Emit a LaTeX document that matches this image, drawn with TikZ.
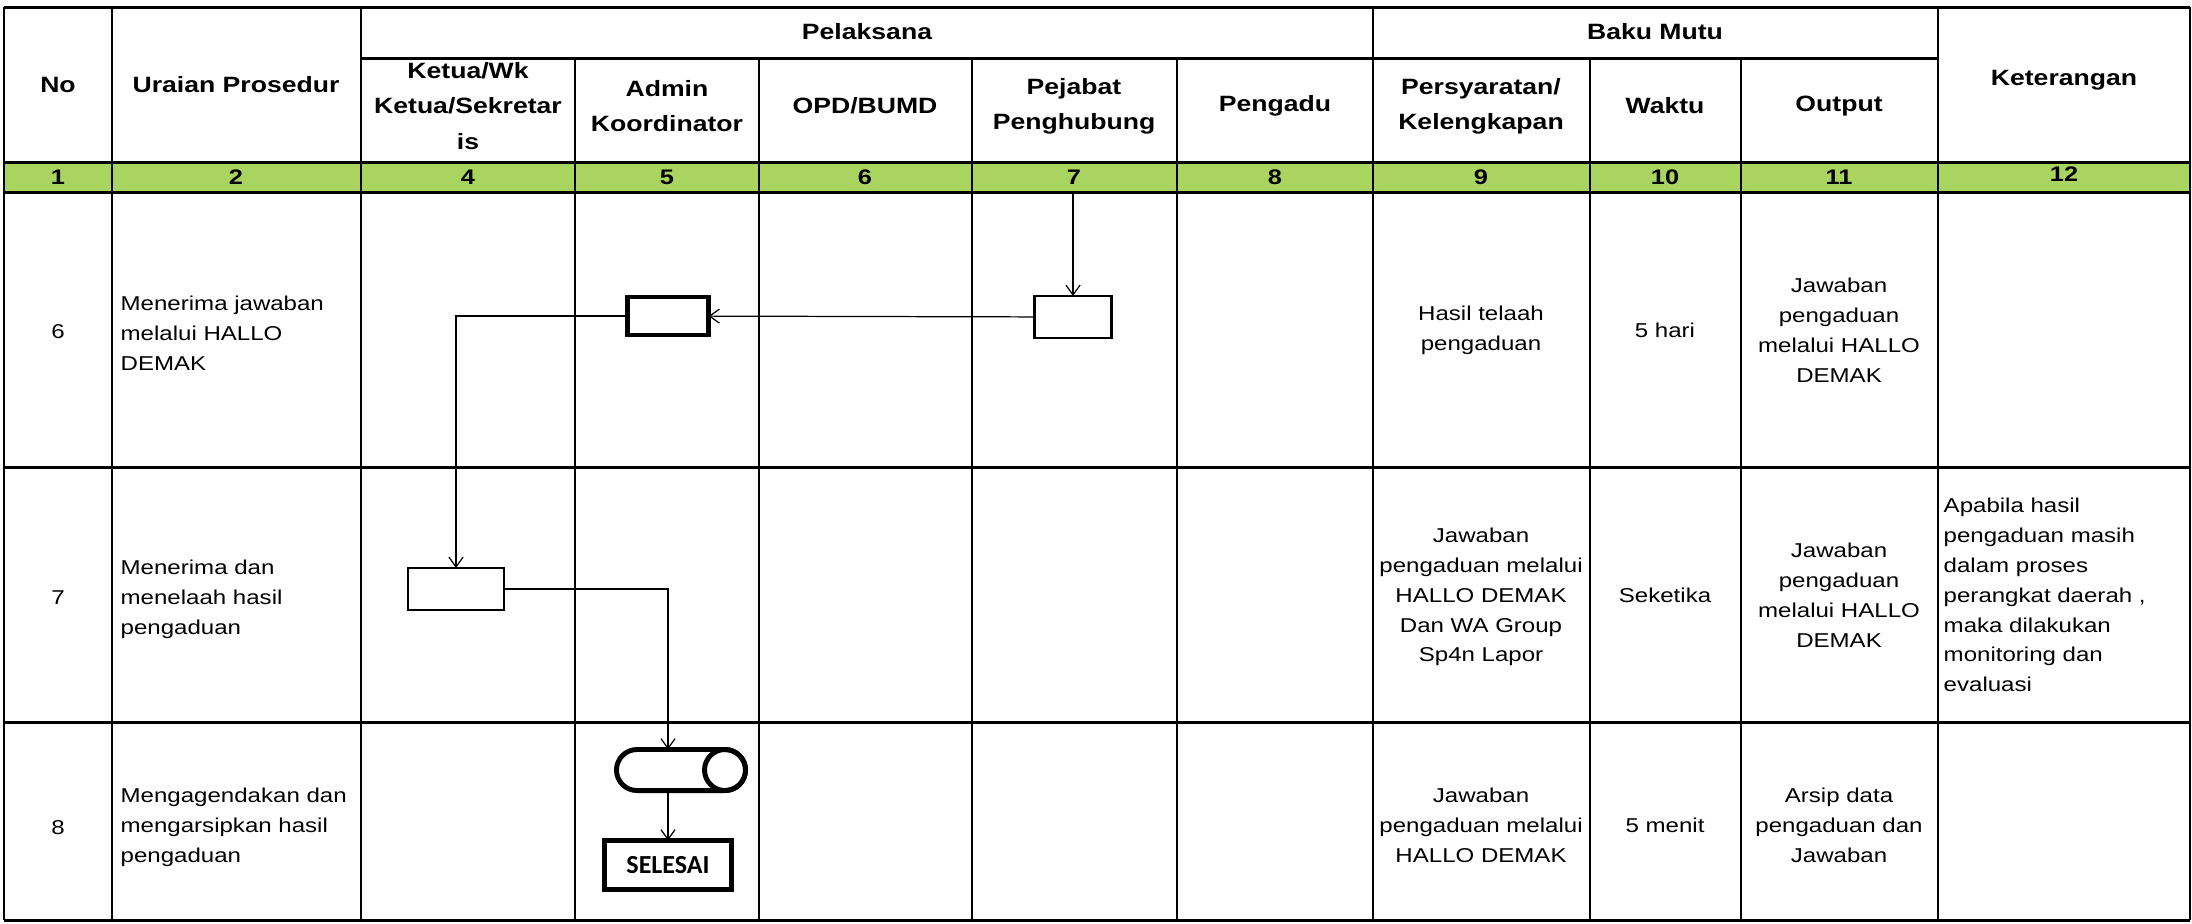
\documentclass[tikz,border=0pt]{standalone}
\usepackage{fontspec}
\setmainfont{Liberation Sans}[FakeStretch=1.2]
\newfontfamily\selesaifont{Carlito}
\usetikzlibrary{arrows.meta,shapes.misc}
\definecolor{hijau}{RGB}{170,212,96}

\begin{document}
\begin{tikzpicture}[x=0.01cm, y=-0.01cm,
    isi/.style={font=\fontsize{5.7}{8.5}\selectfont, align=center, inner sep=0},
    isikiri/.style={isi, align=left, anchor=west},
    judul/.style={font=\fontsize{6.3}{10}\selectfont\bfseries, align=center, inner sep=0},
    nomor/.style={font=\fontsize{6}{7}\selectfont\bfseries, inner sep=0},
    garis/.style={line width=0.6pt},
    garisdatar/.style={line width=0.85pt},
    proses/.style={draw, line width=0.8pt, outer sep=0, inner sep=0},
    prosestebal/.style={proses, line width=1.3pt},
    panah/.style={line width=0.35pt, -{Straight Barb[length=2.8pt,width=4pt]}}]
    \useasboundingbox (0,0) rectangle (2192,923);
    % kepala tabel
    \fill[hijau] (4,162) rectangle (2190,192);
    \foreach \x in {4,112,361,1373,1938,2190}
        \draw[garis] (\x,7) -- (\x,920);
    \foreach \x in {575,759,972,1177,1590,1741}
        \draw[garis] (\x,58) -- (\x,920);
    \foreach \y in {7,162,192,467,722,920}
        \draw[garisdatar] (4,\y) -- (2190,\y);
    \draw[garisdatar] (361,58) -- (1938,58);

    \node[judul] (hno) at (58,85) {No};
    \node[judul] (huraian) at (236,85) {Uraian Prosedur};
    \node[judul] (hpelaksana) at (867,32) {Pelaksana};
    \node[judul] (hbaku) at (1655,32) {Baku Mutu};
    \node[judul] (hket) at (2064,80) {Keterangan};
    \node[judul] (hketua) at (468,106) {Ketua/Wk\\Ketua/Sekretar\\is};
    \node[judul] (hadmin) at (667,106) {Admin\\Koordinator};
    \node[judul] (hopd) at (865,106) {OPD/BUMD};
    \node[judul] (hpejabat) at (1074,106) {Pejabat\\Penghubung};
    \node[judul] (hpengadu) at (1275,106) {Pengadu};
    \node[judul] (hsyarat) at (1481,106) {Persyaratan/\\Kelengkapan};
    \node[judul] (hwaktu) at (1665,106) {Waktu};
    \node[judul] (houtput) at (1839,106) {Output};
    \foreach \x/\t in {58/1,236/2,468/4,667/5,865/6,1074/7,1275/8,1481/9,1665/10,1839/11}
        \node[nomor] (k\t) at (\x,177) {\t};
    \node[nomor] (k12) at (2064,174) {12};

    % baris 6
    \node[isi] (no6) at (58,332) {6};
    \node[isikiri] (uraian6) at (120,333) {Menerima jawaban\\melalui HALLO\\DEMAK};
    \node[isi] (syarat6) at (1481,330) {Hasil telaah\\pengaduan};
    \node[isi] (waktu6) at (1665,330) {5 hari};
    \node[isi] (output6) at (1839,330) {Jawaban\\pengaduan\\melalui HALLO\\DEMAK};

    % baris 7
    \node[isi] (no7) at (58,598) {7};
    \node[isikiri] (uraian7) at (120,599) {Menerima dan\\menelaah hasil\\pengaduan};
    \node[isi] (syarat7) at (1481,597) {Jawaban\\pengaduan melalui\\HALLO DEMAK\\Dan WA Group\\Sp4n Lapor};
    \node[isi] (waktu7) at (1665,595) {Seketika};
    \node[isi] (output7) at (1839,595) {Jawaban\\pengaduan\\melalui HALLO\\DEMAK};
    \node[isikiri] (ket7) at (1943,595) {Apabila hasil\\pengaduan masih\\dalam proses\\perangkat daerah ,\\maka dilakukan\\monitoring dan\\evaluasi};

    % baris 8
    \node[isi] (no8) at (58,828) {8};
    \node[isikiri] (uraian8) at (120,827) {Mengagendakan dan\\mengarsipkan hasil\\pengaduan};
    \node[isi] (syarat8) at (1481,825) {Jawaban\\pengaduan melalui\\HALLO DEMAK};
    \node[isi] (waktu8) at (1665,825) {5 menit};
    \node[isi] (output8) at (1839,825) {Arsip data\\pengaduan dan\\Jawaban};

    % alur
    \node[prosestebal, minimum width=0.81cm, minimum height=0.38cm] (admin6) at (668,316) {};
    \node[proses, minimum width=0.77cm, minimum height=0.42cm] (pejabat6) at (1073,317) {};
    \node[proses, minimum width=0.96cm, minimum height=0.42cm] (ketua7) at (456,589) {};
    \node[prosestebal, rounded rectangle, line width=1.4pt, minimum width=1.29cm, minimum height=0.41cm] (arsip8) at (681,770) {};
    \draw[line width=1.4pt] ([xshift=-0.205cm]arsip8.east) circle (0.205cm);
    \node[prosestebal, line width=1.4pt, minimum width=1.27cm, minimum height=0.49cm,
        font=\selesaifont\bfseries\fontsize{7.4}{8}\selectfont] (selesai8) at (668,865) {SELESAI};
    \coordinate (masuk) at (1073,192);
    \draw[panah] (masuk) -- (pejabat6);
    \draw[panah] (pejabat6) -- (admin6);
    \draw[panah] (admin6.west) -| (ketua7.north);
    \draw[panah] (ketua7.east) -| (arsip8.north -| selesai8.north);
    \draw[panah] (arsip8.south -| selesai8.north) -- (selesai8.north);
\end{tikzpicture}
\end{document}
